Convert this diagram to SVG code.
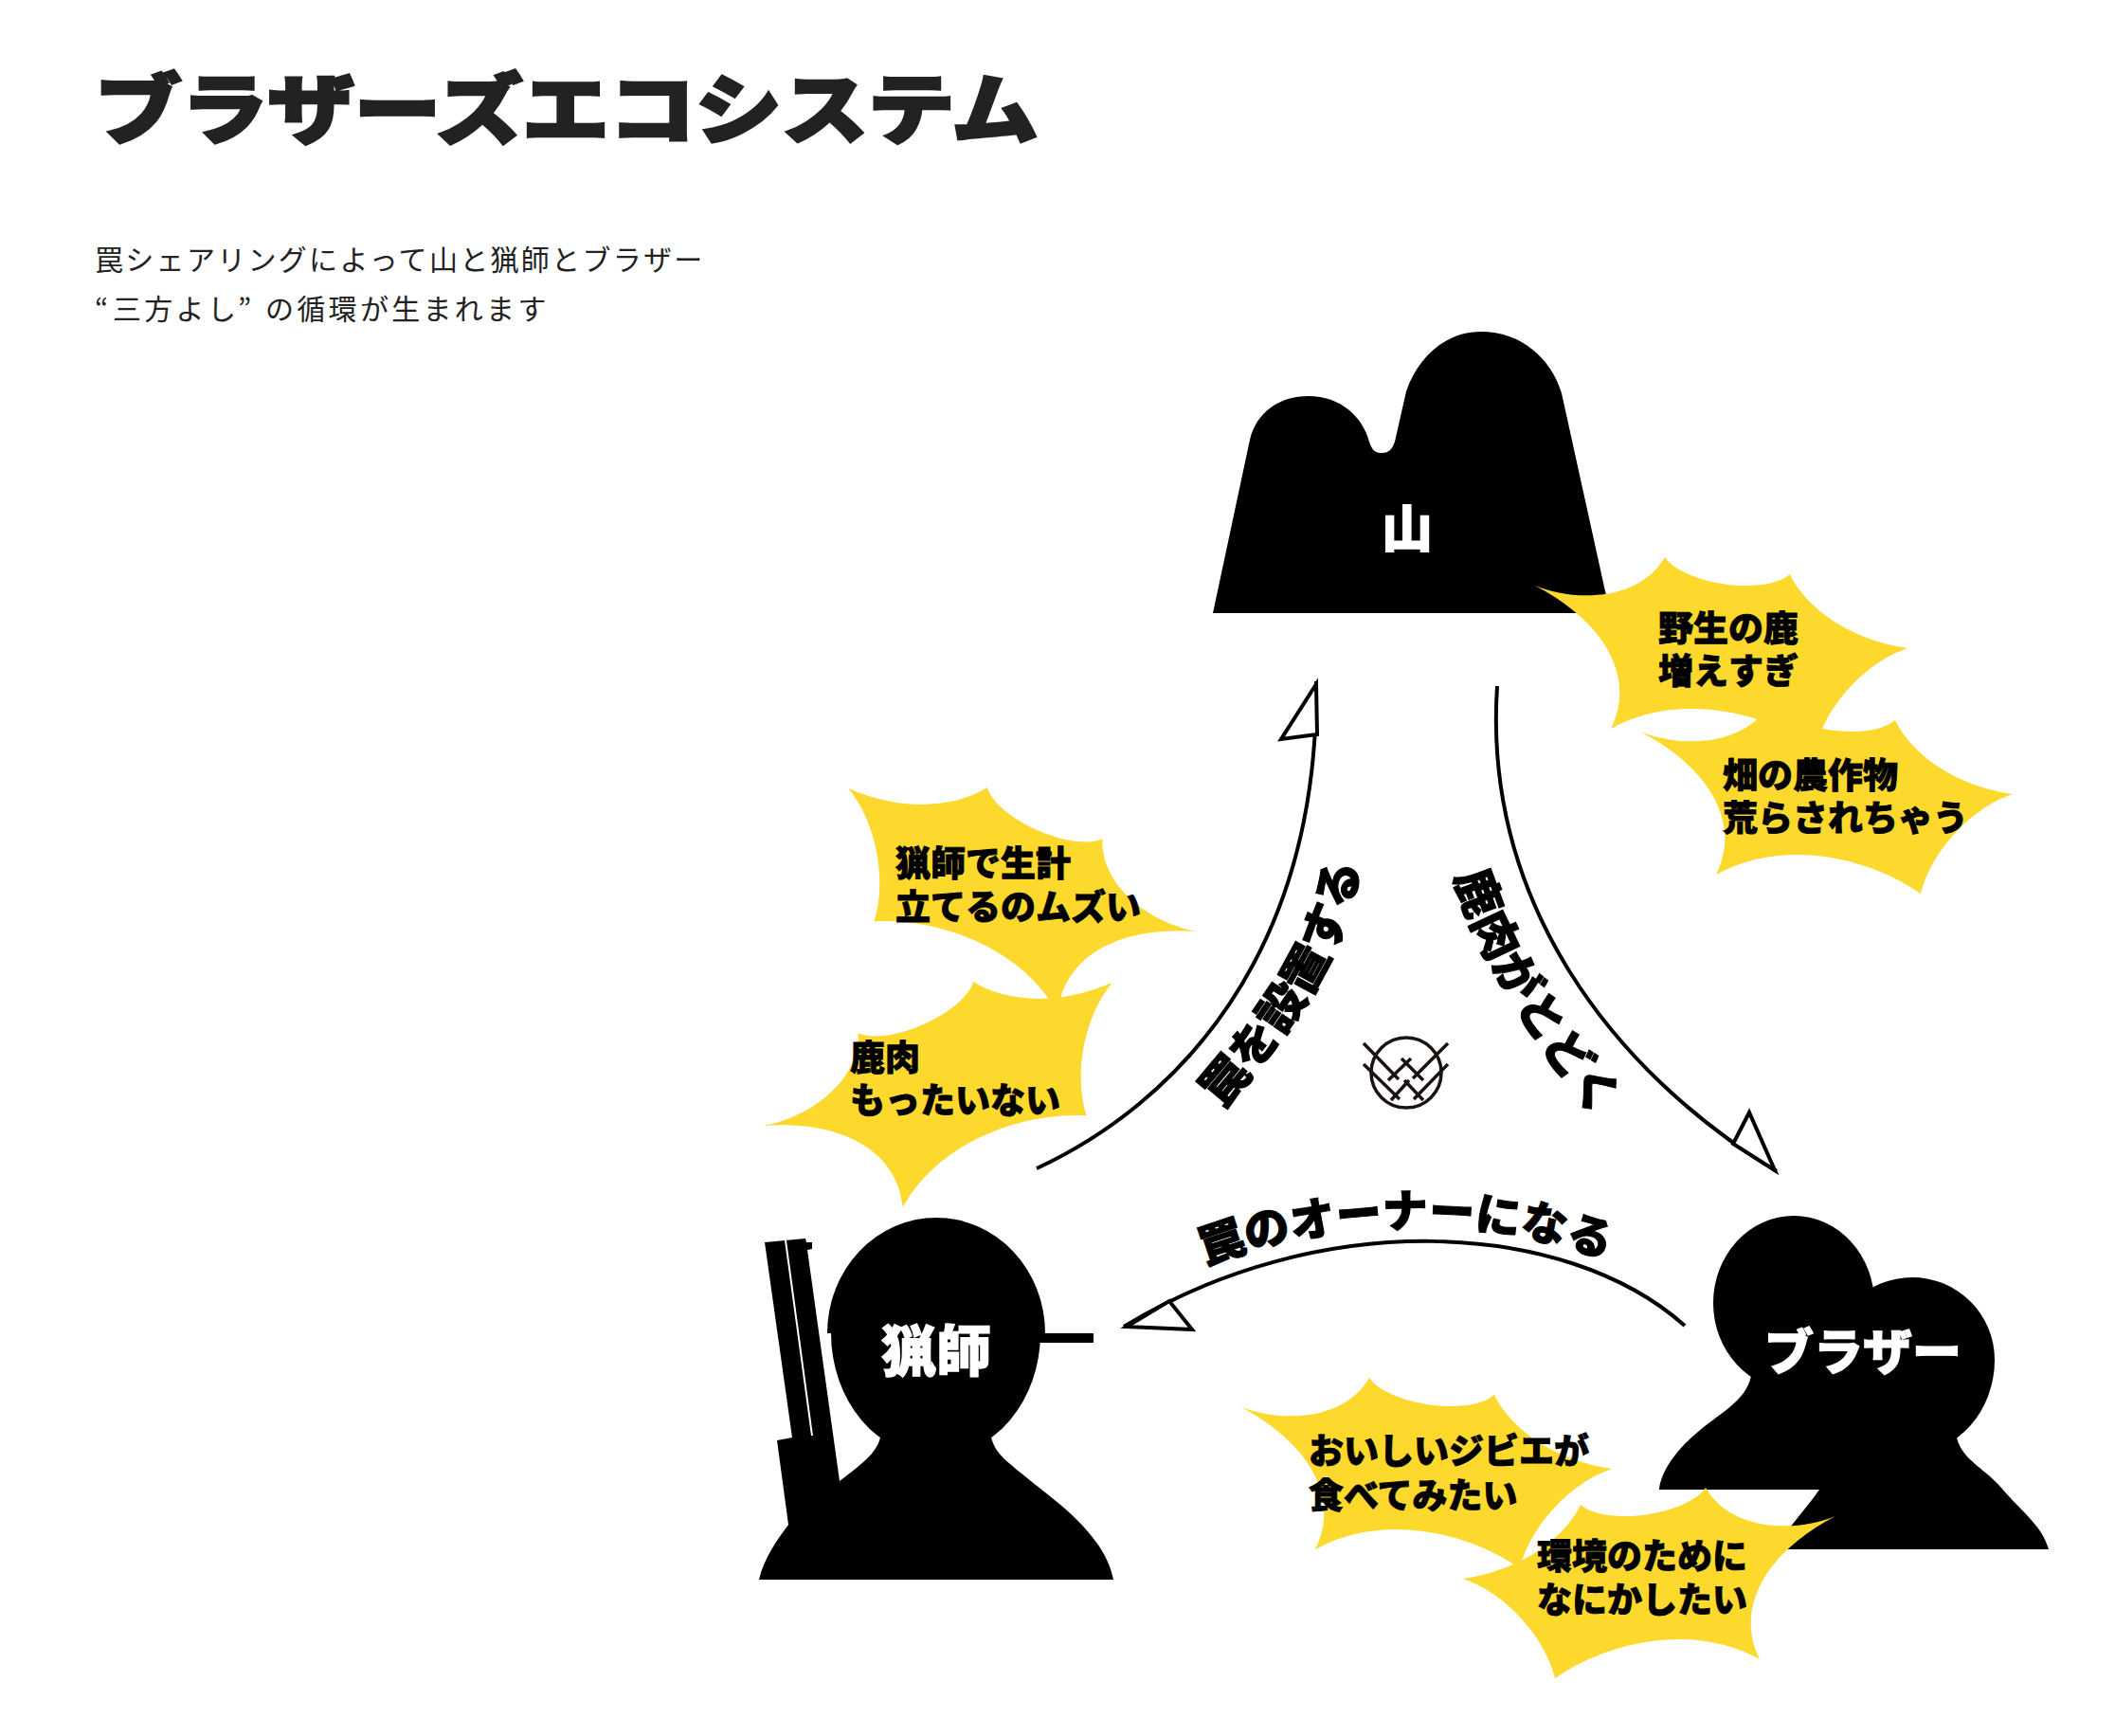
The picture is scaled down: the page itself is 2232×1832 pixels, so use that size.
<svg xmlns="http://www.w3.org/2000/svg" width="2232" height="1832" viewBox="0 0 2232 1832">
<style>
text{font-family:"Noto Sans CJK JP","Noto Sans CJK SC",sans-serif}
.k{fill:#000}
.b{fill:#fdd92e}
.t{font-weight:900;font-size:37px;fill:#000;stroke:#000;stroke-width:.800px}
.w{font-weight:900;fill:#fff;stroke:#fff;stroke-width:1.200px;text-anchor:middle}
.c{fill:none;stroke:#000;stroke-width:4}
.h{fill:#fff;stroke:#000;stroke-width:4;stroke-linejoin:miter}
.l{font-weight:900;font-size:50px;fill:#000;stroke:#000;stroke-width:1px}
.s{font-size:30px;fill:#222;font-weight:400}
.g{fill:none;stroke:#1a1311;stroke-width:3.500}
</style>
<defs>
<path id="burst" d="M0,0C40,17 110,17 137,-30C155,-3 240,12 269,-12C285,22 330,57 393,66C345,82 305,132 296,171C240,132 150,112 80,151C105,102 80,42 0,0Z"/>
<path id="p1" d="M1290,1171C1350,1100 1420,1020 1436,905"/>
<path id="p2" d="M1535,925C1560,1005 1615,1100 1690,1185"/>
<path id="p3" d="M1272,1335C1400,1285 1580,1280 1702,1332"/>
</defs>
<rect width="2232" height="1832" fill="#fff"/>
<g id="title">
<text transform="translate(100,145) scale(1,.880)" font-size="92" font-weight="900" fill="#222" stroke="#222" stroke-width="3" textLength="996">ブラザーズエコシステム</text>
<text class="s" x="100" y="285" letter-spacing="2.300">罠シェアリングによって山と猟師とブラザー</text>
<text class="s" y="337" letter-spacing="3.300"><tspan x="100">“</tspan><tspan x="119">三方よし</tspan><tspan x="251">”</tspan><tspan x="280">の循環が生まれます</tspan></text>
</g>
<g id="node-mountain">
<path class="k" d="M1280,647L1319,464C1326,435 1350,418 1381,418C1415,418 1438,440 1445,466C1448,476 1452,478 1458,478C1465,478 1469,475 1472,466L1484,413C1497,375 1527,350 1563,350C1605,350 1637,378 1648,415L1694,624L1700,647Z"/>
<text class="w" x="1485" y="578" font-size="54">山</text>
</g>
<g id="node-hunter">
<path class="k" d="M873,1407A115,122 0 0 1 1103,1407L1098,1407A110.500,130 0 0 1 877,1407Z"/>
<rect class="k" x="1095" y="1407" width="59" height="10"/>
<path class="k" d="M929,1510L1046,1510L1046,1517C1052,1537 1060,1540 1113,1583C1150,1613 1170,1640 1175,1667L801,1667C806,1645 820,1625 832,1609L886,1563C905,1548 925,1535 929,1517Z"/>
<path class="k" d="M832,1609L820,1520L836,1517L807,1311L850,1307L851,1311L857,1311L857,1318L852,1319L886,1563L860,1620Z"/>
<path d="M828,1309L830,1309L858,1515L856,1515Z" fill="#fff"/>
<text class="w" x="988" y="1447" font-size="58">猟師</text>
</g>
<g id="node-brother">
<ellipse class="k" cx="1893" cy="1375" rx="85" ry="92"/>
<path class="k" d="M1931,1435A87,87 0 0 1 2105,1435A87,98 0 0 1 1931,1435Z"/>
<path class="k" d="M1848,1452C1842,1480 1815,1490 1785,1517C1760,1540 1752,1560 1751,1572L1920,1572C1900,1600 1880,1620 1874,1635L2162,1635C2155,1610 2135,1597 2112,1570C2095,1550 2070,1540 2065,1517L2050,1450Z"/>
<text class="w" x="1966" y="1446" font-size="52">ブラザー</text>
</g>
<g id="connectors">
<path class="c" d="M1094,1233C1240,1165 1392,1010 1389,719"/>
<path class="h" d="M1389,722L1352,780L1390,775Z"/>
<path class="c" d="M1580,724C1565,950 1700,1130 1875,1236"/>
<path class="h" d="M1873,1235L1846,1174L1829,1207Z"/>
<path class="c" d="M1778,1399C1650,1285 1390,1275 1186,1400"/>
<path class="h" d="M1189,1400L1258,1403L1234,1373Z"/>
</g>
<g id="label-trap"><text class="l"><textPath href="#p1">罠を設置する</textPath></text></g>
<g id="label-meat"><text class="l"><textPath href="#p2">鹿肉がとどく</textPath></text></g>
<g id="label-owner"><text class="l" style="font-size:48px"><textPath href="#p3">罠のオーナーになる</textPath></text></g>
<g id="logo" class="g">
<circle cx="1484" cy="1132" r="37"/>
<path d="M1439,1101L1476,1139M1439,1123L1477,1160M1528,1101L1491,1138M1528,1123L1492,1160M1465,1140L1489,1117M1479,1117L1502,1140M1468,1161L1487,1140M1482,1140L1502,1161"/>
</g>
<g id="burst-deer">
<use href="#burst" class="b" transform="translate(1620,618)"/>
<text class="t" x="1750" y="677">野生の鹿</text>
<text class="t" x="1750" y="722">増えすぎ</text>
</g>
<g id="burst-crops">
<use href="#burst" class="b" transform="translate(1731,772)"/>
<text class="t" x="1818" y="832">畑の農作物</text>
<text class="t" x="1818" y="877">荒らされちゃう</text>
</g>
<g id="burst-living">
<use href="#burst" class="b" transform="translate(1264,983) rotate(31.800) scale(-1,1)"/>
<text class="t" x="945" y="925">猟師で生計</text>
<text class="t" x="945" y="971">立てるのムズい</text>
</g>
<g id="burst-waste">
<use href="#burst" class="b" transform="translate(805,1188) rotate(-31.800)"/>
<text class="t" x="897" y="1130">鹿肉</text>
<text class="t" x="897" y="1175">もったいない</text>
</g>
<g id="burst-gibier">
<use href="#burst" class="b" transform="translate(1308,1484)"/>
<text class="t" x="1381" y="1545">おいしいジビエが</text>
<text class="t" x="1381" y="1592">食べてみたい</text>
</g>
<g id="burst-env">
<use href="#burst" class="b" transform="translate(1937,1600) scale(-1,1)"/>
<text class="t" x="1622" y="1656">環境のために</text>
<text class="t" x="1622" y="1702">なにかしたい</text>
</g>
</svg>
